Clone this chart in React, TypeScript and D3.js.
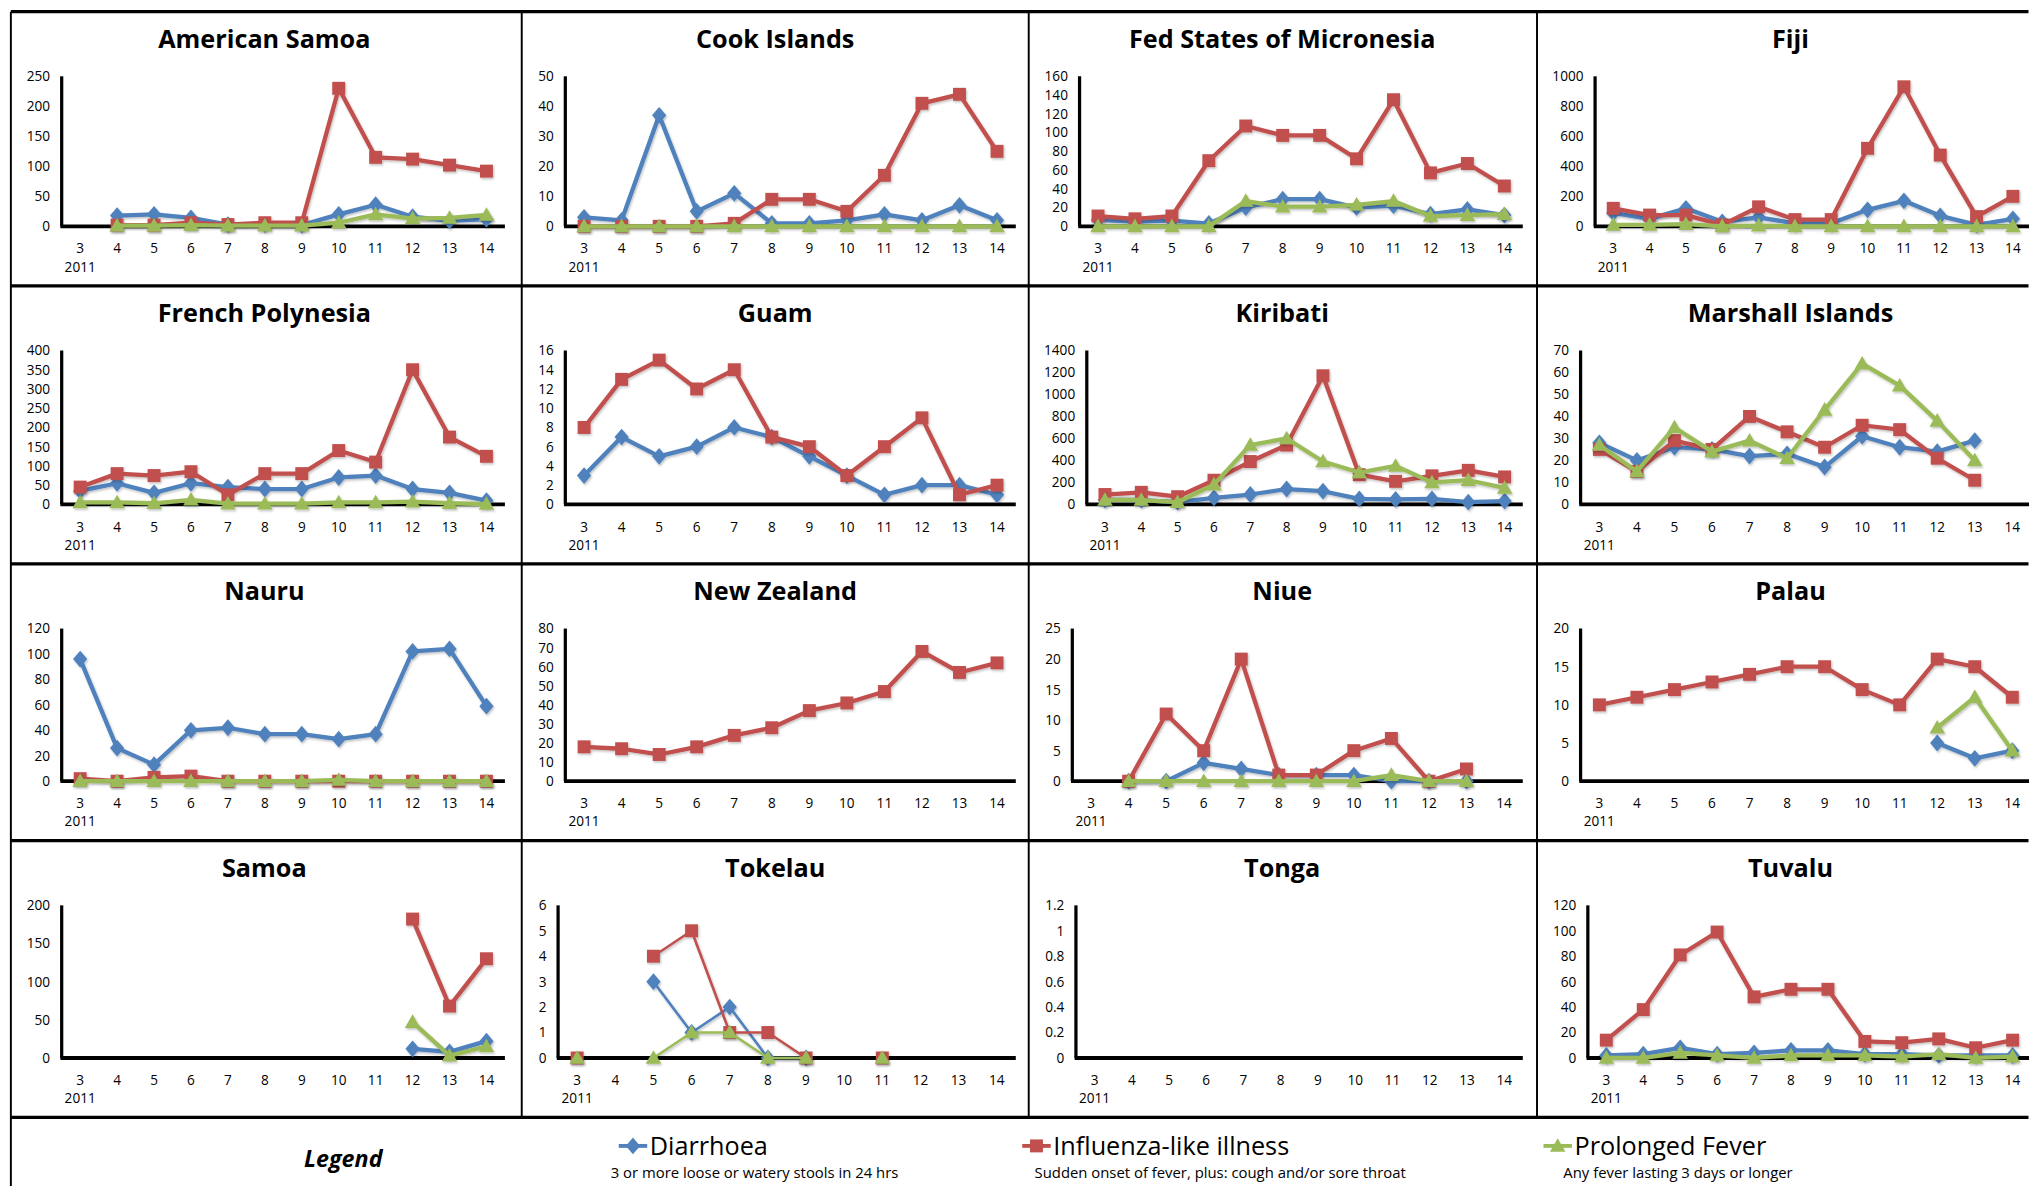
import * as d3 from 'd3'

type Series = (number | null)[]
const _ = null

// epi weeks shown on every panel (2011)
const weeks = ['3', '4', '5', '6', '7', '8', '9', '10', '11', '12', '13', '14']
const yearLabel = '2011'

const amSamoaDiarrhoea: Series = [_, 18, 20, 14, 3, 3, 2, 20, 36, 16, 9, 12]
const amSamoaIli: Series = [_, 2, 2, 6, 3, 6, 6, 230, 115, 112, 102, 92]
const amSamoaFever: Series = [_, 1, 1, 2, 1, 1, 1, 6, 20, 13, 14, 19]

const cookDiarrhoea: Series = [3, 2, 37, 5, 11, 1, 1, 2, 4, 2, 7, 2]
const cookIli: Series = [0, 0, 0, 0, 1, 9, 9, 5, 17, 41, 44, 25]
const cookFever: Series = [0, 0, 0, 0, 0, 0, 0, 0, 0, 0, 0, 0]

const fsmDiarrhoea: Series = [7, 5, 6, 3, 20, 29, 29, 20, 22, 13, 18, 12]
const fsmIli: Series = [11, 8, 11, 70, 107, 97, 97, 72, 135, 57, 67, 43]
const fsmFever: Series = [0, 0, 0, 0, 27, 21, 21, 23, 27, 11, 12, 13]

const fijiDiarrhoea: Series = [90, 50, 120, 30, 60, 20, 20, 110, 170, 70, 10, 50]
const fijiIli: Series = [120, 75, 75, 10, 130, 45, 45, 520, 930, 475, 65, 200]
const fijiFever: Series = [10, 10, 15, 0, 5, 0, 0, 0, 0, 0, 0, 0]

const frPolyDiarrhoea: Series = [35, 55, 30, 55, 45, 40, 40, 70, 75, 40, 30, 10]
const frPolyIli: Series = [45, 80, 75, 85, 25, 80, 80, 140, 110, 350, 175, 125]
const frPolyFever: Series = [5, 5, 3, 12, 2, 2, 2, 5, 5, 7, 3, 1]

const guamDiarrhoea: Series = [3, 7, 5, 6, 8, 7, 5, 3, 1, 2, 2, 1]
const guamIli: Series = [8, 13, 15, 12, 14, 7, 6, 3, 6, 9, 1, 2]
const guamFever: Series = [_, _, _, _, _, _, _, _, _, _, _, _]

const kiribatiDiarrhoea: Series = [40, 40, 20, 60, 90, 140, 120, 50, 45, 50, 20, 30]
const kiribatiIli: Series = [90, 110, 70, 220, 390, 540, 1170, 270, 210, 260, 310, 250]
const kiribatiFever: Series = [40, 40, 20, 180, 540, 600, 390, 290, 350, 200, 220, 150]

const marshallDiarrhoea: Series = [28, 20, 26, 25, 22, 23, 17, 31, 26, 24, 29, _]
const marshallIli: Series = [25, 15, 29, 25, 40, 33, 26, 36, 34, 21, 11, _]
const marshallFever: Series = [27, 15, 35, 24, 29, 21, 43, 64, 54, 38, 20, _]

const nauruDiarrhoea: Series = [96, 26, 13, 40, 42, 37, 37, 33, 37, 102, 104, 59]
const nauruIli: Series = [2, 0, 3, 4, 0, 0, 0, 0, 0, 0, 0, 0]
const nauruFever: Series = [0, 0, 0, 0, 0, 0, 0, 1, 0, 0, 0, 0]

const nzDiarrhoea: Series = [_, _, _, _, _, _, _, _, _, _, _, _]
const nzIli: Series = [18, 17, 14, 18, 24, 28, 37, 41, 47, 68, 57, 62]
const nzFever: Series = [_, _, _, _, _, _, _, _, _, _, _, _]

const niueDiarrhoea: Series = [_, 0, 0, 3, 2, 1, 1, 1, 0, 0, 0, _]
const niueIli: Series = [_, 0, 11, 5, 20, 1, 1, 5, 7, 0, 2, _]
const niueFever: Series = [_, 0, 0, 0, 0, 0, 0, 0, 1, 0, 0, _]

const palauDiarrhoea: Series = [_, _, _, _, _, _, _, _, _, 5, 3, 4]
const palauIli: Series = [10, 11, 12, 13, 14, 15, 15, 12, 10, 16, 15, 11]
const palauFever: Series = [_, _, _, _, _, _, _, _, _, 7, 11, 4]

const samoaDiarrhoea: Series = [_, _, _, _, _, _, _, _, _, 12, 8, 22]
const samoaIli: Series = [_, _, _, _, _, _, _, _, _, 182, 68, 130]
const samoaFever: Series = [_, _, _, _, _, _, _, _, _, 47, 3, 15]

const tokelauDiarrhoea: Series = [_, _, 3, 1, 2, 0, 0, _, _, _, _, _]
const tokelauIli: Series = [0, _, 4, 5, 1, 1, 0, _, 0, _, _, _]
const tokelauFever: Series = [0, _, 0, 1, 1, 0, 0, _, 0, _, _, _]

const tongaDiarrhoea: Series = [_, _, _, _, _, _, _, _, _, _, _, _]
const tongaIli: Series = [_, _, _, _, _, _, _, _, _, _, _, _]
const tongaFever: Series = [_, _, _, _, _, _, _, _, _, _, _, _]

const tuvaluDiarrhoea: Series = [2, 3, 8, 3, 4, 6, 6, 3, 3, 2, 2, 2]
const tuvaluIli: Series = [14, 38, 81, 99, 48, 54, 54, 13, 12, 15, 8, 14]
const tuvaluFever: Series = [0, 0, 4, 2, 0, 2, 2, 2, 1, 3, 0, 1]

const panels = [
  { name: 'American Samoa', max: 250, step: 50, d: amSamoaDiarrhoea, i: amSamoaIli, f: amSamoaFever },
  { name: 'Cook Islands', max: 50, step: 10, d: cookDiarrhoea, i: cookIli, f: cookFever },
  { name: 'Fed States of Micronesia', max: 160, step: 20, d: fsmDiarrhoea, i: fsmIli, f: fsmFever },
  { name: 'Fiji', max: 1000, step: 200, d: fijiDiarrhoea, i: fijiIli, f: fijiFever },
  { name: 'French Polynesia', max: 400, step: 50, d: frPolyDiarrhoea, i: frPolyIli, f: frPolyFever },
  { name: 'Guam', max: 16, step: 2, d: guamDiarrhoea, i: guamIli, f: guamFever },
  { name: 'Kiribati', max: 1400, step: 200, d: kiribatiDiarrhoea, i: kiribatiIli, f: kiribatiFever },
  { name: 'Marshall Islands', max: 70, step: 10, d: marshallDiarrhoea, i: marshallIli, f: marshallFever },
  { name: 'Nauru', max: 120, step: 20, d: nauruDiarrhoea, i: nauruIli, f: nauruFever },
  { name: 'New Zealand', max: 80, step: 10, d: nzDiarrhoea, i: nzIli, f: nzFever },
  { name: 'Niue', max: 25, step: 5, d: niueDiarrhoea, i: niueIli, f: niueFever },
  { name: 'Palau', max: 20, step: 5, d: palauDiarrhoea, i: palauIli, f: palauFever },
  { name: 'Samoa', max: 200, step: 50, d: samoaDiarrhoea, i: samoaIli, f: samoaFever },
  { name: 'Tokelau', max: 6, step: 1, d: tokelauDiarrhoea, i: tokelauIli, f: tokelauFever, thin: true },
  { name: 'Tonga', max: 1.2, step: 0.2, d: tongaDiarrhoea, i: tongaIli, f: tongaFever },
  { name: 'Tuvalu', max: 120, step: 20, d: tuvaluDiarrhoea, i: tuvaluIli, f: tuvaluFever },
]

const legendItems = [
  { label: 'Diarrhoea', note: '3 or more loose or watery stools in 24 hrs' },
  { label: 'Influenza-like illness', note: 'Sudden onset of fever, plus: cough and/or sore throat' },
  { label: 'Prolonged Fever', note: 'Any fever lasting 3 days or longer' },
]

const BLUE = '#4F81BD'
const RED = '#C0504D'
const GREEN = '#9BBB59'
const FONT = '"Open Sans", "Noto Sans", sans-serif'

// layout in a 1568 x 917 frame, scaled up to the window
const colX = [8, 403, 795, 1188]
const rowY = [9, 221, 436, 650]
const rowH = [212, 215, 214, 214]
const legendTop = 864

const fmt = (v: number) => String(+v.toFixed(1))

const marker = (kind: 'd' | 'i' | 'f', cx: number, cy: number, color: string, key: string | number) => {
  if (kind === 'd')
    return <path key={key} d={`M${cx},${cy - 6.5}L${cx + 5.5},${cy}L${cx},${cy + 6.5}L${cx - 5.5},${cy}Z`} fill={color} />
  if (kind === 'i') return <rect key={key} x={cx - 5} y={cy - 5} width={10} height={10} fill={color} />
  return <path key={key} d={`M${cx},${cy - 6}L${cx + 6},${cy + 4.5}L${cx - 6},${cy + 4.5}Z`} fill={color} />
}

function Panel({ p, x0, y0, h }: { p: (typeof panels)[number]; x0: number; y0: number; h: number }) {
  const ticks = d3.range(0, Math.round(p.max / p.step) + 1).map((k) => k * p.step)
  const labelW = d3.max(ticks, (t) => fmt(t).replace('.', '').length + (fmt(t).includes('.') ? 0.5 : 0))!
  const axisX = x0 + 22.5 + 5.6 * labelW
  const right = x0 + 382
  const top = y0 + 50
  const zero = y0 + h - 46

  const x = d3.scaleBand<string>().domain(weeks).range([axisX, right])
  const y = d3.scaleLinear().domain([0, p.max]).range([zero, top])
  const cx = (i: number) => x(weeks[i])! + x.bandwidth() / 2
  const line = d3
    .line<number | null>()
    .defined((v) => v != null)
    .x((_v, i) => cx(i))
    .y((v) => y(v as number))

  const series: { kind: 'd' | 'i' | 'f'; data: Series; color: string }[] = [
    { kind: 'd', data: p.d, color: BLUE },
    { kind: 'i', data: p.i, color: RED },
    { kind: 'f', data: p.f, color: GREEN },
  ]
  const lw = p.thin ? 2 : 3.3

  return (
    <g>
      <text x={x0 + 196} y={y0 + 28} textAnchor="middle" fontSize={19.5} fontWeight="bold">
        {p.name}
      </text>
      {ticks.map((t) => (
        <text key={t} x={axisX - 9} y={y(t) + 3.8} textAnchor="end" fontSize={10.5}>
          {fmt(t)}
        </text>
      ))}
      {weeks.map((w) => (
        <text key={w} x={x(w)! + x.bandwidth() / 2} y={zero + 21} textAnchor="middle" fontSize={10.5}>
          {w}
        </text>
      ))}
      <text x={cx(0)} y={zero + 35} textAnchor="middle" fontSize={10.5}>
        {yearLabel}
      </text>
      <line x1={axisX} x2={axisX} y1={top} y2={zero} stroke="#000" strokeWidth={2.5} />
      <line x1={axisX - 1} x2={right} y1={zero} y2={zero} stroke="#000" strokeWidth={3} />
      {series.map((s) => (
        <g key={s.kind} filter="url(#shadow)">
          <path d={line(s.data) ?? ''} fill="none" stroke={s.color} strokeWidth={lw} strokeLinejoin="round" />
          {s.data.map((v, i) => (v == null ? null : marker(s.kind, cx(i), y(v), s.color, i)))}
        </g>
      ))}
    </g>
  )
}

export default function App() {
  const legendX = [478, 790, 1193]
  const legendColors = [BLUE, RED, GREEN]
  const kinds: ('d' | 'i' | 'f')[] = ['d', 'i', 'f']
  const noteX = [583, 943, 1297]
  return (
    <svg
      width={2029}
      height={1186}
      viewBox="0 0 1568 917"
      style={{ position: 'absolute', left: 0, top: 0, background: '#fff' }}
      fontFamily={FONT}
    >
      <defs>
        <filter id="shadow" x="-10%" y="-10%" width="120%" height="130%">
          <feDropShadow dx={0.8} dy={1.2} stdDeviation={0.9} floodColor="#000" floodOpacity={0.25} />
        </filter>
      </defs>
      <rect x={0} y={0} width={1568} height={917} fill="#fff" />
      {panels.map((p, k) => (
        <Panel key={p.name} p={p} x0={colX[k % 4]} y0={rowY[Math.floor(k / 4)]} h={rowH[Math.floor(k / 4)]} />
      ))}

      {/* frame */}
      {[...rowY, legendTop].map((yy) => (
        <line key={yy} x1={colX[0]} x2={1568} y1={yy} y2={yy} stroke="#000" strokeWidth={2.5} />
      ))}
      <line x1={colX[0]} x2={colX[0]} y1={rowY[0]} y2={917} stroke="#000" strokeWidth={1.5} />
      {colX.slice(1).map((xx) => (
        <line key={xx} x1={xx} x2={xx} y1={rowY[0]} y2={legendTop} stroke="#000" strokeWidth={1.5} />
      ))}

      {/* legend */}
      <text x={265} y={902} textAnchor="middle" fontSize={18} fontWeight="bold" fontStyle="italic">
        Legend
      </text>
      {legendItems.map((it, k) => (
        <g key={it.label}>
          <line x1={legendX[k]} x2={legendX[k] + 22} y1={886} y2={886} stroke={legendColors[k]} strokeWidth={3} />
          {marker(kinds[k], legendX[k] + 11, 886, legendColors[k], 'm')}
          <text x={legendX[k] + 24} y={893} fontSize={19.5}>
            {it.label}
          </text>
          <text x={noteX[k]} y={911} textAnchor="middle" fontSize={11.5}>
            {it.note}
          </text>
        </g>
      ))}
    </svg>
  )
}
